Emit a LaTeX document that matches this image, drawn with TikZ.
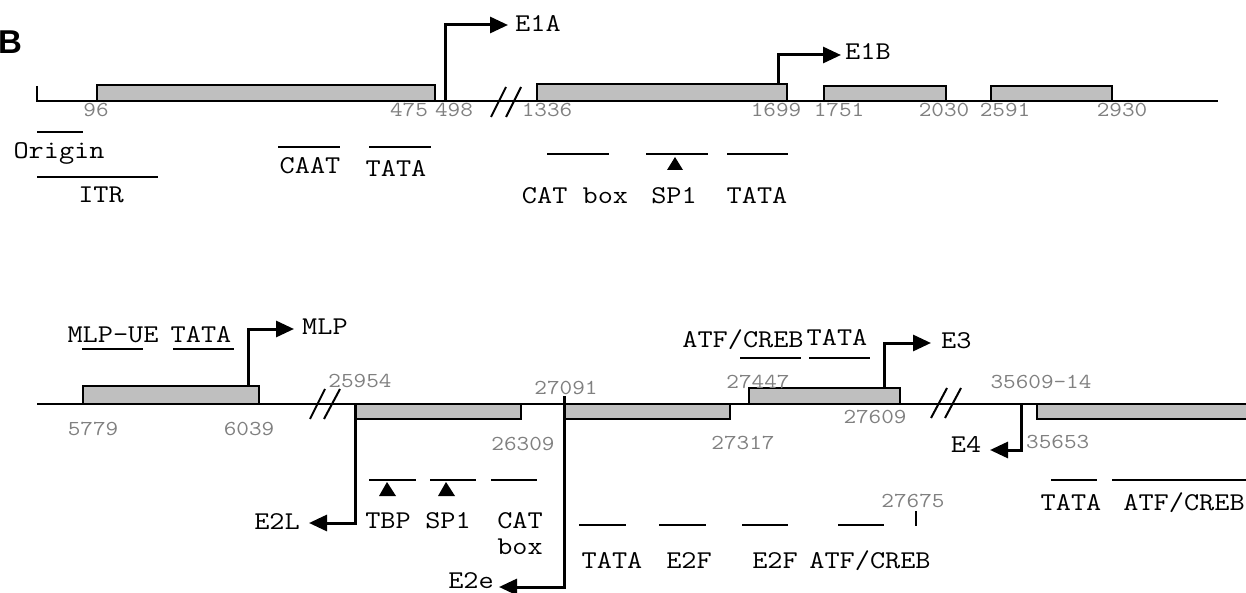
\documentclass[tikz,border=0pt]{standalone}
\usepackage{fontspec}
\usetikzlibrary{arrows.meta}
\newfontfamily\lblfont[FakeStretch=1.15]{Latin Modern Mono}
\newfontfamily\headfont{Liberation Sans}
\begin{document}
\begin{tikzpicture}[x=1pt,y=-1pt,
  seq/.style={line width=2.2pt},
  exon/.style={draw, line width=2.2pt, fill=black!25},
  site/.style={line width=2.6pt},
  brk/.style={line width=2pt},
  tss/.style={line width=3pt, -{Triangle[length=18pt,width=16pt]}},
  tri/.style={fill=black},
  lbl/.style={font=\lblfont\fontsize{25.6}{28}\selectfont, inner sep=0pt, anchor=base},
  num/.style={font=\lblfont\fontsize{21.3}{24}\selectfont, text=black!50, inner sep=0pt, anchor=base}]
\useasboundingbox (0,0) rectangle (1246,593);
\node[anchor=base west, inner sep=0pt, font=\headfont\bfseries\fontsize{33}{36}\selectfont] (panel) at (-2,54) {B};

% ---------- row 1 ----------
\coordinate (r1start) at (37,86);
\coordinate (r1end) at (1218,101);
\draw[seq] (r1start) -- (37,101) -- (r1end);
\draw[exon] (97,85) rectangle (435,101);
\draw[exon] (537,84) rectangle (787,101);
\draw[exon] (824,86) rectangle (946,101);
\draw[exon] (991,86) rectangle (1112,101);
\draw[brk] (491,117) -- (506,87);
\draw[brk] (506,117) -- (521,87);

\coordinate (e1a0) at (445,101);
\coordinate (e1a1) at (508,25);
\draw[tss] (e1a0) |- (e1a1);
\node[lbl, anchor=base west] (e1a) at (515,32) {E1A};
\coordinate (e1b0) at (778,84);
\coordinate (e1b1) at (841,55);
\draw[tss] (e1b0) |- (e1b1);
\node[lbl, anchor=base west] (e1b) at (845,60) {E1B};

\node[num] (n96) at (96,117) {96};
\node[num] (n475) at (409,117) {475};
\node[num] (n498) at (454,117) {498};
\node[num] (n1336) at (547,117) {1336};
\node[num] (n1699) at (776,117) {1699};
\node[num] (n1751) at (839,117) {1751};
\node[num] (n2030) at (944,117) {2030};
\node[num] (n2591) at (1005,117) {2591};
\node[num] (n2930) at (1122,117) {2930};

\draw[site] (37,132) -- (83,132);
\draw[site] (37,177) -- (158,177);
\draw[site] (278,147) -- (340,147);
\draw[site] (369,147) -- (431,147);
\draw[site] (547,154) -- (609,154);
\draw[site] (646,154) -- (708,154);
\fill[tri] (675,157) -- (683,170) -- (667,170) -- cycle;
\draw[site] (727,154) -- (788,154);

\node[lbl] (origin) at (59,159) {Origin};
\node[lbl] (itr) at (101,203) {ITR};
\node[lbl] (caat) at (310,174) {CAAT};
\node[lbl] (tata1) at (396,177) {TATA};
\node[lbl] (catbox1) at (575,204) {CAT box};
\node[lbl] (sp1a) at (674,204) {SP1};
\node[lbl] (tata2) at (757,204) {TATA};

% ---------- row 2 ----------
\coordinate (r2start) at (37,404);
\coordinate (r2end) at (1250,404);
\draw[seq] (r2start) -- (r2end);
\draw[exon] (83,386) rectangle (259,404);
\draw[exon] (355,404) rectangle (521,419);
\draw[exon] (564,404) rectangle (730,419);
\draw[exon] (749,388) rectangle (900,404);
\draw[exon] (1037,404) rectangle (1262,419);
\draw[brk] (310,419) -- (325,389);
\draw[brk] (324,419) -- (340,389);
\draw[brk] (931,418) -- (947,388);
\draw[brk] (945,418) -- (961,388);

\coordinate (mlp0) at (248,386);
\coordinate (mlp1) at (294,329);
\draw[tss] (mlp0) |- (mlp1);
\node[lbl, anchor=base west] (mlp) at (302,334) {MLP};
\coordinate (e30) at (884,388);
\coordinate (e31) at (931,343);
\draw[tss] (e30) |- (e31);
\node[lbl, anchor=base west] (e3) at (941,348) {E3};
\coordinate (e2l0) at (355,404);
\coordinate (e2l1) at (309,523);
\draw[tss] (e2l0) |- (e2l1);
\node[lbl, anchor=base east] (e2l) at (300,529) {E2L};
\coordinate (e2e0) at (564,396);
\coordinate (e2e1) at (499,587);
\draw[tss] (e2e0) |- (e2e1);
\node[lbl, anchor=base east] (e2e) at (494,588) {E2e};
\coordinate (e40) at (1021,404);
\coordinate (e41) at (990,450);
\draw[tss] (e40) |- (e41);
\node[lbl] (e4) at (966,452) {E4};

\node[num] (n5779) at (93,435) {5779};
\node[num] (n6039) at (249,435) {6039};
\node[num] (n25954) at (360,387) {25954};
\node[num] (n26309) at (523,450) {26309};
\node[num] (n27091) at (566,394) {27091};
\node[num] (n27317) at (743,449) {27317};
\node[num] (n27447) at (758,388) {27447};
\node[num] (n27609) at (875,423) {27609};
\node[num] (n27675) at (913,507) {27675};
\node[num] (n35609) at (1041,388) {35609-14};
\node[num, anchor=base west] (n35653) at (1026,448) {35653};

\draw[site] (82,349) -- (143,349);
\draw[site] (173,349) -- (234,349);
\draw[site] (740,358) -- (801,358);
\draw[site] (809,358) -- (870,358);
\draw[site] (369,480) -- (416,480);
\fill[tri] (387,482) -- (396,496) -- (379,496) -- cycle;
\draw[site] (430,480) -- (476,480);
\fill[tri] (446,482) -- (455,496) -- (438,496) -- cycle;
\draw[site] (491,480) -- (537,480);
\draw[site] (579,525) -- (626,525);
\draw[site] (659,525) -- (706,525);
\draw[site] (742,525) -- (788,525);
\draw[site] (838,525) -- (884,525);
\draw[brk] (916,511) -- (916,526);
\draw[site] (1051,480) -- (1097,480);
\draw[site] (1112,480) -- (1250,480);

\node[lbl] (mlpue) at (113,342) {MLP-UE};
\node[lbl] (tata3) at (201,342) {TATA};
\node[lbl] (atf1) at (743,347) {ATF/CREB};
\node[lbl] (tata4) at (837,345) {TATA};
\node[lbl] (tbp) at (388,528) {TBP};
\node[lbl] (sp1b) at (448,528) {SP1};
\node[lbl] (cat) at (520,528) {CAT};
\node[lbl] (box) at (520,554) {box};
\node[lbl] (tata5) at (612,568) {TATA};
\node[lbl] (e2f1) at (689,568) {E2F};
\node[lbl] (e2f2) at (775,568) {E2F};
\node[lbl] (atf2) at (870,568) {ATF/CREB};
\node[lbl] (tata6) at (1071,510) {TATA};
\node[lbl] (atf3) at (1184,510) {ATF/CREB};
\end{tikzpicture}
\end{document}
